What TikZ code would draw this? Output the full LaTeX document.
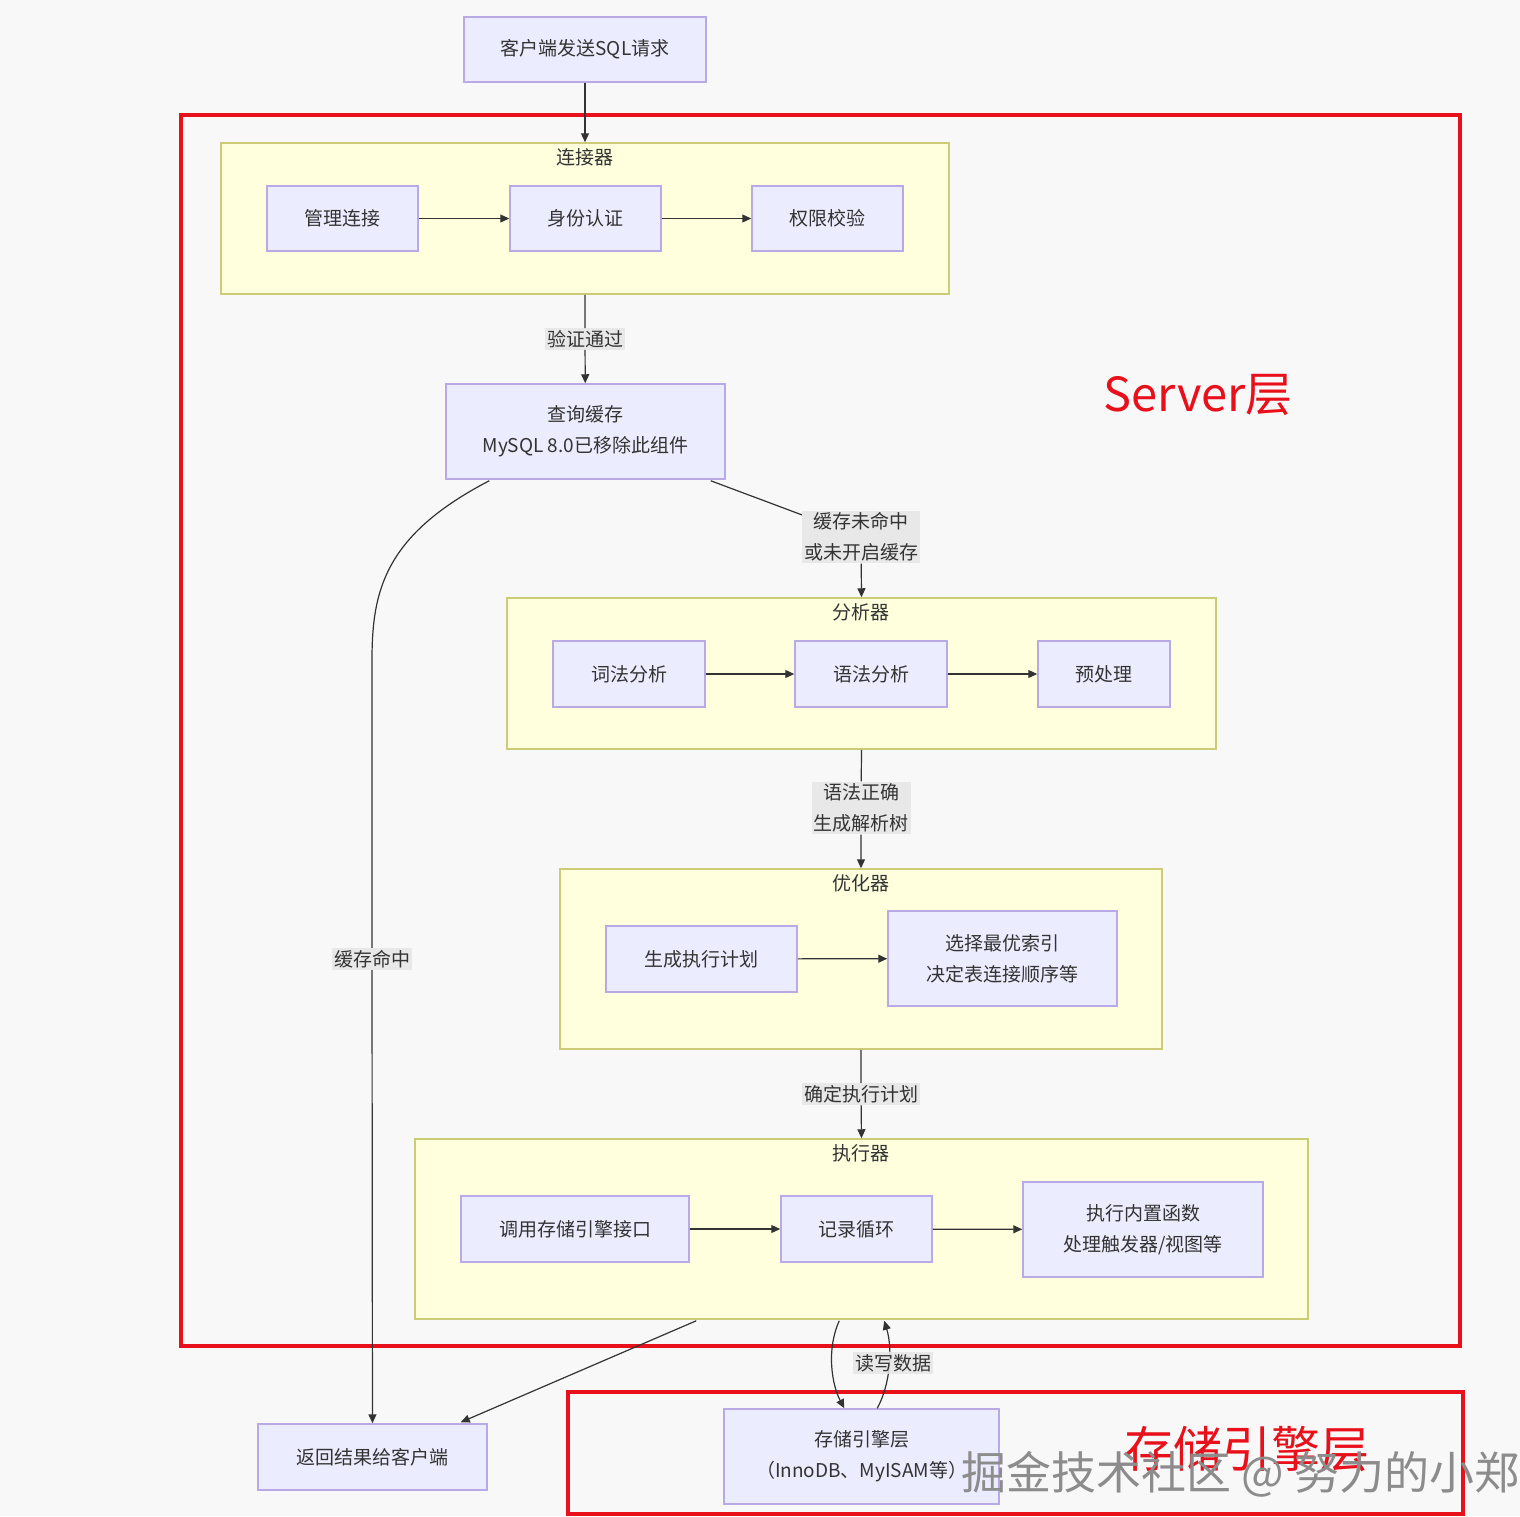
\documentclass[tikz,border=0pt]{standalone}
\usepackage{fontspec}
\setmainfont{Noto Sans CJK SC}
\usetikzlibrary{arrows.meta,calc}
\definecolor{nodefill}{HTML}{ECECFF}
\definecolor{nodeline}{HTML}{B9A9E6}
\definecolor{clusterfill}{HTML}{FFFFDE}
\definecolor{clusterline}{HTML}{CCCC77}
\definecolor{layerred}{HTML}{E8101A}
\definecolor{edgegray}{HTML}{333333}
\definecolor{labelbg}{HTML}{E6E6E6}
\definecolor{pagebg}{HTML}{F8F8F8}
\tikzset{
  txt/.style={font=\fontsize{19}{31}\selectfont, text=edgegray},
  proc/.style={txt, draw=nodeline, fill=nodefill, line width=1.5pt, align=center, inner sep=0pt},
  cluster/.style={draw=clusterline, fill=clusterfill, line width=1.5pt, inner sep=0pt},
  flow/.style={draw=edgegray, line width=1.2pt, ->},
  edgetag/.style={txt, fill=labelbg, fill opacity=0.85, text opacity=1, align=center, inner sep=2pt},
  layer/.style={draw=layerred, line width=4pt, inner sep=0pt},
  >={Triangle[length=9pt,width=8pt]}
}
\begin{document}
\begin{tikzpicture}[x=1pt,y=-1pt]
\useasboundingbox[fill=pagebg] (0,0) rectangle (1520,1516);

% layers
\node[layer, minimum width=1279, minimum height=1231] (server) at (820.5,730.5) {};
\node[layer, minimum width=895, minimum height=122] (engine) at (1015.5,1453) {};
\node[text=layerred, font=\fontsize{47}{47}\selectfont] (serverl) at (1198,395) {Server层};
\node[text=layerred, font=\fontsize{49}{49}\selectfont] (enginel) at (1247,1449) {存储引擎层};

% clusters
\node[cluster, minimum width=728, minimum height=151] (conn) at (585,218.5) {};
\node[txt] (connl) at (585,157) {连接器};
\node[cluster, minimum width=709, minimum height=151] (ana) at (861.5,673.5) {};
\node[txt] (anal) at (861,612) {分析器};
\node[cluster, minimum width=602, minimum height=180] (opt) at (861,959) {};
\node[txt] (optl) at (861,883) {优化器};
\node[cluster, minimum width=893, minimum height=180] (exec) at (861.5,1229) {};
\node[txt] (execl) at (861,1153) {执行器};

% nodes
\node[proc, minimum width=242, minimum height=65] (client) at (585,49.5) {客户端发送SQL请求};
\node[proc, minimum width=151, minimum height=65] (mgr) at (342.5,218.5) {管理连接};
\node[proc, minimum width=151, minimum height=65] (auth) at (585.5,218.5) {身份认证};
\node[proc, minimum width=151, minimum height=65] (perm) at (827.5,218.5) {权限校验};
\node[proc, minimum width=279, minimum height=95] (cache) at (585.5,431.5) {查询缓存\\MySQL 8.0已移除此组件};
\node[proc, minimum width=152, minimum height=66] (lex) at (629,674) {词法分析};
\node[proc, minimum width=152, minimum height=66] (syn) at (871,674) {语法分析};
\node[proc, minimum width=132, minimum height=66] (pre) at (1104,674) {预处理};
\node[proc, minimum width=191, minimum height=66] (plan) at (701.5,959) {生成执行计划};
\node[proc, minimum width=229, minimum height=95] (idx) at (1002.5,958.5) {选择最优索引\\决定表连接顺序等};
\node[proc, minimum width=228, minimum height=66] (call) at (575,1229) {调用存储引擎接口};
\node[proc, minimum width=151, minimum height=66] (loop) at (856.5,1229) {记录循环};
\node[proc, minimum width=240, minimum height=95] (func) at (1143,1229.5) {执行内置函数\\处理触发器/视图等};
\node[proc, minimum width=275, minimum height=95] (store) at (861.5,1456.5) {存储引擎层\\（InnoDB、MyISAM等）};
\node[proc, minimum width=229, minimum height=66] (ret) at (372.5,1457) {返回结果给客户端};

% edge labels
\node[edgetag] (passl) at (585,339) {验证通过};
\node[edgetag] (missl) at (861,537) {缓存未命中\\或未开启缓存};
\node[edgetag] (synl) at (861,808) {语法正确\\生成解析树};
\node[edgetag] (planl) at (861,1094) {确定执行计划};
\node[edgetag] (hitl) at (372,959) {缓存命中};

% edges
\draw[flow] (client) -- (conn.north);
\draw[flow] (mgr) -- (auth);
\draw[flow] (auth) -- (perm);
\draw[flow] (conn.south) -- (passl) -- (cache);
\draw[flow] ($(cache.south east)+(-15,1)$) -- (missl) -- (ana.north);
\draw[flow] (lex) -- (syn);
\draw[flow] (syn) -- (pre);
\draw[flow] (ana.south) -- (synl) -- (opt.north);
\draw[flow] (plan) -- (idx);
\draw[flow] (opt.south) -- (planl) -- (exec.north);
\draw[flow] (call) -- (loop);
\draw[flow] (loop) -- (func);
\draw[flow] ($(cache.south west)+(44,1)$) .. controls (385,535) and (372,590) .. (372,660) -- (hitl) -- (ret);
\draw[flow] ($(exec.south west)+(282,1)$) -- ($(ret.north east)+(-27,-1)$);
\draw[flow] ($(exec.south west)+(425,1)$) .. controls (826,1350) and (832,1385) .. ($(store.north west)+(121,0)$);
\draw[flow] ($(store.north west)+(154,0)$) .. controls (890,1385) and (893,1350) .. ($(exec.south west)+(470,1)$);
\node[edgetag] (rwl) at (893,1363) {读写数据};

% watermark
\node[text=black!45, font=\fontsize{45}{45}\selectfont, anchor=west] (mark) at (958,1474) {掘金技术社区 @ 努力的小郑};
\end{tikzpicture}
\end{document}
